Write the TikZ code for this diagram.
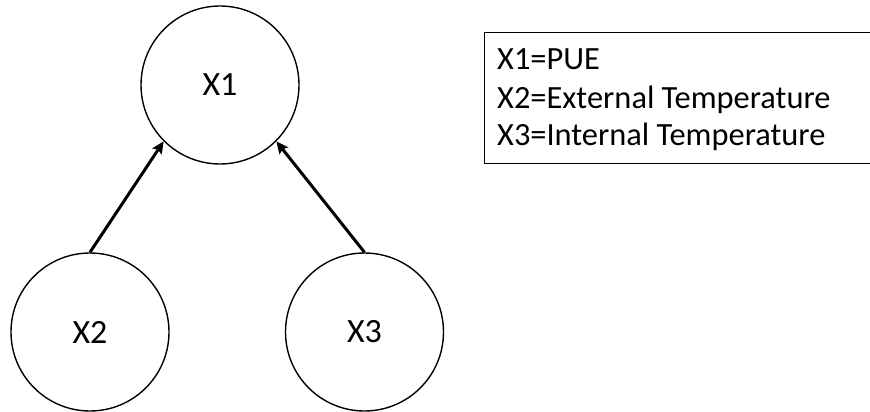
\documentclass[tikz,border=0pt]{standalone}
\usepackage{fontspec}
\setmainfont{Carlito}
\usetikzlibrary{arrows.meta}
\begin{document}
\begin{tikzpicture}[x=1pt,y=-1pt,
  var/.style={circle,draw,line width=1.4pt,minimum size=158pt,inner sep=0pt,font=\fontsize{34}{40}\selectfont},
  edge/.style={line width=3pt,-{Stealth[length=12pt,width=11pt,inset=2pt]}},
  legendbox/.style={draw,line width=1.4pt,rectangle,minimum width=420pt,minimum height=131pt,anchor=north west,inner sep=0pt},
  legendtext/.style={anchor=base west,inner sep=0pt,font=\fontsize{32.4}{37}\selectfont}]
\useasboundingbox (0,0) rectangle (870,412);
\node[var] (x1) at (220,85) {X1};
\node[var] (x2) at (90,332) {X2};
\node[var] (x3) at (364.5,332) {X3};
\draw[edge] (x2.north) -- (x1.225);
\draw[edge] (x3.north) -- (x1.-45);
\node[legendbox] (legend) at (484,32) {};
\node[legendtext] (l1) at (497,70) {X1=PUE};
\node[legendtext] (l2) at (497,108) {X2=External Temperature};
\node[legendtext] (l3) at (497,145) {X3=Internal Temperature};
\end{tikzpicture}
\end{document}
